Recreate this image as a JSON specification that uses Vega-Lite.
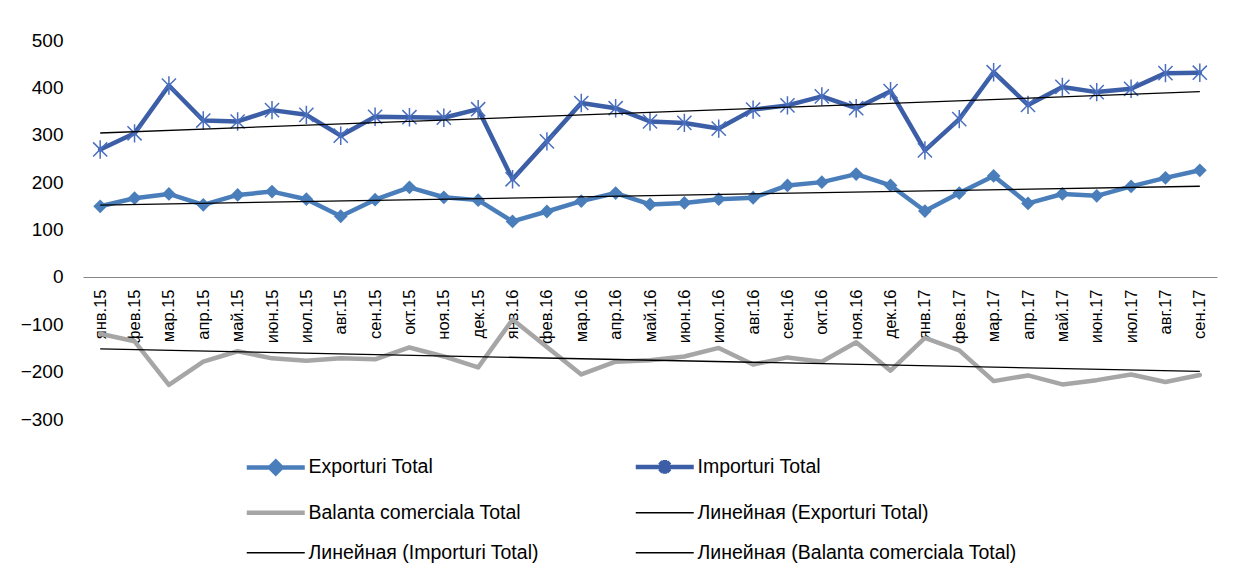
{
  "$schema": "https://vega.github.io/schema/vega-lite/v6.json",
  "autosize": {"type": "none"},
  "width": 1134,
  "height": 379,
  "padding": {"left": 83, "top": 40, "right": 20, "bottom": 160},
  "background": "#ffffff",
  "config": {"view": {"stroke": null}, "font": "Liberation Sans"},
  "data": {"values": [
    {"t":1,"series":"Exporturi Total","trend":"Линейная (Exporturi Total)","v":149},
    {"t":2,"series":"Exporturi Total","trend":"Линейная (Exporturi Total)","v":166},
    {"t":3,"series":"Exporturi Total","trend":"Линейная (Exporturi Total)","v":175},
    {"t":4,"series":"Exporturi Total","trend":"Линейная (Exporturi Total)","v":152},
    {"t":5,"series":"Exporturi Total","trend":"Линейная (Exporturi Total)","v":173},
    {"t":6,"series":"Exporturi Total","trend":"Линейная (Exporturi Total)","v":180},
    {"t":7,"series":"Exporturi Total","trend":"Линейная (Exporturi Total)","v":164},
    {"t":8,"series":"Exporturi Total","trend":"Линейная (Exporturi Total)","v":128},
    {"t":9,"series":"Exporturi Total","trend":"Линейная (Exporturi Total)","v":163},
    {"t":10,"series":"Exporturi Total","trend":"Линейная (Exporturi Total)","v":189},
    {"t":11,"series":"Exporturi Total","trend":"Линейная (Exporturi Total)","v":168},
    {"t":12,"series":"Exporturi Total","trend":"Линейная (Exporturi Total)","v":162},
    {"t":13,"series":"Exporturi Total","trend":"Линейная (Exporturi Total)","v":117},
    {"t":14,"series":"Exporturi Total","trend":"Линейная (Exporturi Total)","v":138},
    {"t":15,"series":"Exporturi Total","trend":"Линейная (Exporturi Total)","v":160},
    {"t":16,"series":"Exporturi Total","trend":"Линейная (Exporturi Total)","v":177},
    {"t":17,"series":"Exporturi Total","trend":"Линейная (Exporturi Total)","v":153},
    {"t":18,"series":"Exporturi Total","trend":"Линейная (Exporturi Total)","v":156},
    {"t":19,"series":"Exporturi Total","trend":"Линейная (Exporturi Total)","v":164},
    {"t":20,"series":"Exporturi Total","trend":"Линейная (Exporturi Total)","v":167},
    {"t":21,"series":"Exporturi Total","trend":"Линейная (Exporturi Total)","v":193},
    {"t":22,"series":"Exporturi Total","trend":"Линейная (Exporturi Total)","v":200},
    {"t":23,"series":"Exporturi Total","trend":"Линейная (Exporturi Total)","v":217},
    {"t":24,"series":"Exporturi Total","trend":"Линейная (Exporturi Total)","v":193},
    {"t":25,"series":"Exporturi Total","trend":"Линейная (Exporturi Total)","v":139},
    {"t":26,"series":"Exporturi Total","trend":"Линейная (Exporturi Total)","v":177},
    {"t":27,"series":"Exporturi Total","trend":"Линейная (Exporturi Total)","v":213},
    {"t":28,"series":"Exporturi Total","trend":"Линейная (Exporturi Total)","v":155},
    {"t":29,"series":"Exporturi Total","trend":"Линейная (Exporturi Total)","v":175},
    {"t":30,"series":"Exporturi Total","trend":"Линейная (Exporturi Total)","v":171},
    {"t":31,"series":"Exporturi Total","trend":"Линейная (Exporturi Total)","v":191},
    {"t":32,"series":"Exporturi Total","trend":"Линейная (Exporturi Total)","v":209},
    {"t":33,"series":"Exporturi Total","trend":"Линейная (Exporturi Total)","v":225},
    {"t":1,"series":"Importuri Total","trend":"Линейная (Importuri Total)","v":269},
    {"t":2,"series":"Importuri Total","trend":"Линейная (Importuri Total)","v":303},
    {"t":3,"series":"Importuri Total","trend":"Линейная (Importuri Total)","v":404},
    {"t":4,"series":"Importuri Total","trend":"Линейная (Importuri Total)","v":330},
    {"t":5,"series":"Importuri Total","trend":"Линейная (Importuri Total)","v":328},
    {"t":6,"series":"Importuri Total","trend":"Линейная (Importuri Total)","v":352},
    {"t":7,"series":"Importuri Total","trend":"Линейная (Importuri Total)","v":342},
    {"t":8,"series":"Importuri Total","trend":"Линейная (Importuri Total)","v":298},
    {"t":9,"series":"Importuri Total","trend":"Линейная (Importuri Total)","v":338},
    {"t":10,"series":"Importuri Total","trend":"Линейная (Importuri Total)","v":337},
    {"t":11,"series":"Importuri Total","trend":"Линейная (Importuri Total)","v":336},
    {"t":12,"series":"Importuri Total","trend":"Линейная (Importuri Total)","v":354},
    {"t":13,"series":"Importuri Total","trend":"Линейная (Importuri Total)","v":206},
    {"t":14,"series":"Importuri Total","trend":"Линейная (Importuri Total)","v":286},
    {"t":15,"series":"Importuri Total","trend":"Линейная (Importuri Total)","v":367},
    {"t":16,"series":"Importuri Total","trend":"Линейная (Importuri Total)","v":356},
    {"t":17,"series":"Importuri Total","trend":"Линейная (Importuri Total)","v":328},
    {"t":18,"series":"Importuri Total","trend":"Линейная (Importuri Total)","v":325},
    {"t":19,"series":"Importuri Total","trend":"Линейная (Importuri Total)","v":313},
    {"t":20,"series":"Importuri Total","trend":"Линейная (Importuri Total)","v":353},
    {"t":21,"series":"Importuri Total","trend":"Линейная (Importuri Total)","v":362},
    {"t":22,"series":"Importuri Total","trend":"Линейная (Importuri Total)","v":381},
    {"t":23,"series":"Importuri Total","trend":"Линейная (Importuri Total)","v":356},
    {"t":24,"series":"Importuri Total","trend":"Линейная (Importuri Total)","v":392},
    {"t":25,"series":"Importuri Total","trend":"Линейная (Importuri Total)","v":267},
    {"t":26,"series":"Importuri Total","trend":"Линейная (Importuri Total)","v":333},
    {"t":27,"series":"Importuri Total","trend":"Линейная (Importuri Total)","v":432},
    {"t":28,"series":"Importuri Total","trend":"Линейная (Importuri Total)","v":363},
    {"t":29,"series":"Importuri Total","trend":"Линейная (Importuri Total)","v":401},
    {"t":30,"series":"Importuri Total","trend":"Линейная (Importuri Total)","v":390},
    {"t":31,"series":"Importuri Total","trend":"Линейная (Importuri Total)","v":397},
    {"t":32,"series":"Importuri Total","trend":"Линейная (Importuri Total)","v":430},
    {"t":33,"series":"Importuri Total","trend":"Линейная (Importuri Total)","v":431},
    {"t":1,"series":"Balanta comerciala Total","trend":"Линейная (Balanta comerciala Total)","v":-120},
    {"t":2,"series":"Balanta comerciala Total","trend":"Линейная (Balanta comerciala Total)","v":-136},
    {"t":3,"series":"Balanta comerciala Total","trend":"Линейная (Balanta comerciala Total)","v":-228},
    {"t":4,"series":"Balanta comerciala Total","trend":"Линейная (Balanta comerciala Total)","v":-179},
    {"t":5,"series":"Balanta comerciala Total","trend":"Линейная (Balanta comerciala Total)","v":-157},
    {"t":6,"series":"Balanta comerciala Total","trend":"Линейная (Balanta comerciala Total)","v":-172},
    {"t":7,"series":"Balanta comerciala Total","trend":"Линейная (Balanta comerciala Total)","v":-177},
    {"t":8,"series":"Balanta comerciala Total","trend":"Линейная (Balanta comerciala Total)","v":-172},
    {"t":9,"series":"Balanta comerciala Total","trend":"Линейная (Balanta comerciala Total)","v":-174},
    {"t":10,"series":"Balanta comerciala Total","trend":"Линейная (Balanta comerciala Total)","v":-149},
    {"t":11,"series":"Balanta comerciala Total","trend":"Линейная (Balanta comerciala Total)","v":-168},
    {"t":12,"series":"Balanta comerciala Total","trend":"Линейная (Balanta comerciala Total)","v":-191},
    {"t":13,"series":"Balanta comerciala Total","trend":"Линейная (Balanta comerciala Total)","v":-90},
    {"t":14,"series":"Balanta comerciala Total","trend":"Линейная (Balanta comerciala Total)","v":-148},
    {"t":15,"series":"Balanta comerciala Total","trend":"Линейная (Balanta comerciala Total)","v":-206},
    {"t":16,"series":"Balanta comerciala Total","trend":"Линейная (Balanta comerciala Total)","v":-179},
    {"t":17,"series":"Balanta comerciala Total","trend":"Линейная (Balanta comerciala Total)","v":-176},
    {"t":18,"series":"Balanta comerciala Total","trend":"Линейная (Balanta comerciala Total)","v":-168},
    {"t":19,"series":"Balanta comerciala Total","trend":"Линейная (Balanta comerciala Total)","v":-150},
    {"t":20,"series":"Balanta comerciala Total","trend":"Линейная (Balanta comerciala Total)","v":-185},
    {"t":21,"series":"Balanta comerciala Total","trend":"Линейная (Balanta comerciala Total)","v":-170},
    {"t":22,"series":"Balanta comerciala Total","trend":"Линейная (Balanta comerciala Total)","v":-179},
    {"t":23,"series":"Balanta comerciala Total","trend":"Линейная (Balanta comerciala Total)","v":-138},
    {"t":24,"series":"Balanta comerciala Total","trend":"Линейная (Balanta comerciala Total)","v":-198},
    {"t":25,"series":"Balanta comerciala Total","trend":"Линейная (Balanta comerciala Total)","v":-129},
    {"t":26,"series":"Balanta comerciala Total","trend":"Линейная (Balanta comerciala Total)","v":-155},
    {"t":27,"series":"Balanta comerciala Total","trend":"Линейная (Balanta comerciala Total)","v":-220},
    {"t":28,"series":"Balanta comerciala Total","trend":"Линейная (Balanta comerciala Total)","v":-208},
    {"t":29,"series":"Balanta comerciala Total","trend":"Линейная (Balanta comerciala Total)","v":-227},
    {"t":30,"series":"Balanta comerciala Total","trend":"Линейная (Balanta comerciala Total)","v":-218},
    {"t":31,"series":"Balanta comerciala Total","trend":"Линейная (Balanta comerciala Total)","v":-206},
    {"t":32,"series":"Balanta comerciala Total","trend":"Линейная (Balanta comerciala Total)","v":-222},
    {"t":33,"series":"Balanta comerciala Total","trend":"Линейная (Balanta comerciala Total)","v":-207}
  ]},
  "encoding": {
    "x": {
      "field": "t", "type": "quantitative",
      "scale": {"domain": [0.5, 33.5], "nice": false, "zero": false},
      "axis": {
        "title": null, "grid": false, "ticks": false,
        "domainColor": "#868686", "domainWidth": 1.2,
        "offset": -142,
        "values": [1,2,3,4,5,6,7,8,9,10,11,12,13,14,15,16,17,18,19,20,21,22,23,24,25,26,27,28,29,30,31,32,33],
        "labelExpr": "['янв.15','фев.15','мар.15','апр.15','май.15','июн.15','июл.15','авг.15','сен.15','окт.15','ноя.15','дек.15','янв.16','фев.16','мар.16','апр.16','май.16','июн.16','июл.16','авг.16','сен.16','окт.16','ноя.16','дек.16','янв.17','фев.17','мар.17','апр.17','май.17','июн.17','июл.17','авг.17','сен.17'][datum.value - 1]",
        "labelAngle": -90, "labelFont": "Liberation Sans", "labelFontSize": 16.5,
        "labelColor": "#000000", "labelPadding": 12, "labelOverlap": false, "labelFlush": false
      }
    },
    "y": {
      "field": "v", "type": "quantitative",
      "scale": {"domain": [-300, 500], "nice": false},
      "axis": {
        "title": null, "grid": false, "ticks": false, "domain": false,
        "values": [-300,-200,-100,0,100,200,300,400,500],
        "labelFont": "Liberation Sans", "labelFontSize": 19, "labelColor": "#000000", "labelPadding": 20
      }
    }
  },
  "layer": [
    {
      "mark": {"type": "line", "strokeWidth": 4.5, "strokeJoin": "round", "strokeCap": "round"},
      "encoding": {
        "color": {
          "field": "series", "type": "nominal",
          "scale": {
            "domain": ["Exporturi Total", "Importuri Total", "Balanta comerciala Total", "Линейная (Exporturi Total)", "Линейная (Importuri Total)", "Линейная (Balanta comerciala Total)"],
            "range": ["#4a7ebb", "#3b5ea6", "#a6a6a6", "#000000", "#000000", "#000000"]
          },
          "legend": {
            "title": null, "orient": "none", "legendX": 183, "legendY": 417,
            "direction": "horizontal",
            "columns": 2, "columnPadding": 87, "rowPadding": 19,
            "symbolSize": 3364, "symbolType": "M-1,0H1",
            "labelFont": "Liberation Sans", "labelFontSize": 19.5, "labelColor": "#000000",
            "labelOffset": 23, "labelLimit": 0,
            "encode": {
              "symbols": {
                "update": {
                  "shape": {"signal": "datum.value === 'Exporturi Total' ? 'M-1,0H1M0,-0.2L0.2,0L0,0.2L-0.2,0Z' : (datum.value === 'Importuri Total' ? 'M-1,0H1M-0.17,-0.17L0.17,0.17M-0.17,0.17L0.17,-0.17M0,-0.24V0.24' : 'M-1,0H1')"},
                  "strokeWidth": {"signal": "indexof(['Exporturi Total','Importuri Total','Balanta comerciala Total'], datum.value) >= 0 ? 4.5 : 1.5"},
                  "fill": {"signal": "datum.value === 'Exporturi Total' ? '#4a7ebb' : 'transparent'"}
                }
              }
            }
          }
        }
      }
    },
    {
      "transform": [{"filter": "datum.series === 'Exporturi Total'"}],
      "mark": {"type": "point", "shape": "diamond", "filled": true, "size": 190, "color": "#4a7ebb", "opacity": 1}
    },
    {
      "transform": [{"filter": "datum.series === 'Importuri Total'"}],
      "mark": {"type": "point", "shape": "M-1,-1L1,1M-1,1L1,-1M0,-1.3V1.3", "filled": false, "size": 200, "color": "#4a6fbf", "strokeWidth": 1.5, "opacity": 1}
    },
    {
      "transform": [{"regression": "v", "on": "t", "groupby": ["trend"], "method": "linear"}],
      "mark": {"type": "line", "strokeWidth": 1.3},
      "encoding": {
        "color": {"field": "trend", "type": "nominal", "legend": null}
      }
    }
  ]
}
